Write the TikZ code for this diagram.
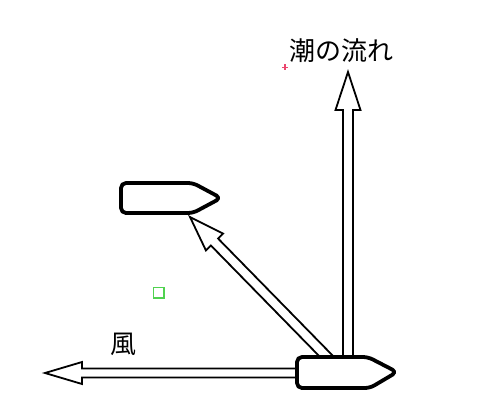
\documentclass[tikz,border=0pt]{standalone}
\usepackage{fontspec}
\newfontfamily\jpfont{Noto Sans CJK JP}
\usetikzlibrary{calc}
\definecolor{markgreen}{RGB}{80,210,80}
\definecolor{markred}{RGB}{235,70,110}
\tikzset{
  boat/.style={line width=3.8pt, rounded corners=5pt, fill=white, line join=round},
  arrline/.style={line width=1.8pt, fill=white, line join=miter},
  label/.style={font=\jpfont\fontsize{26}{29}\selectfont, inner sep=0pt},
}
\newcommand\hollowarrow[5]{% tail, tip, head length, head half width, shaft half width
  \path ($(#2)!#3!(#1)$) coordinate (hb);
  \draw[arrline] ($(#1)!#5!90:(#2)$) -- ($(hb)!#5!90:(#2)$) -- ($(hb)!#4!90:(#2)$) -- (#2)
     -- ($(hb)!#4!-90:(#2)$) -- ($(hb)!#5!-90:(#2)$) -- ($(#1)!#5!-90:(#2)$);
}
\begin{document}
\begin{tikzpicture}[x=1pt,y=-1pt]
  \useasboundingbox[fill=white] (0,0) rectangle (480,416);
  % labels
  \node[label] (tide) at (341.5,51) {潮の流れ};
  \node[label] (wind) at (123,344) {風};
  % connector end points
  \coordinate (tideTail) at (348,361);
  \coordinate (tideTip) at (348,72);
  \coordinate (windTail) at (300,373);
  \coordinate (windTip) at (45,373);
  \coordinate (driftTail) at (331,361);
  \coordinate (driftTip) at (190,217);
  % arrows
  \hollowarrow{tideTail}{tideTip}{38pt}{12.5pt}{5pt}
  \hollowarrow{windTail}{windTip}{37pt}{11pt}{4.5pt}
  \hollowarrow{driftTail}{driftTip}{35pt}{12pt}{5pt}
  % boats
  \draw[boat] (297,357) coordinate (boatA) -- (368,357) -- (397,372) coordinate (boatAbow) -- (370,388) -- (297,388) -- cycle;
  \draw[boat] (121,183) coordinate (boatB) -- (193,183) -- (221,198) coordinate (boatBbow) -- (193,213) -- (121,213) -- cycle;
  % small marks
  \draw[draw=markgreen, line width=1.3pt] (153.5,287.5) rectangle (164,298);
  \draw[draw=markred, line width=1.2pt] (282,67.3) -- (288,67.3) (285,64.3) -- (285,70.3);
\end{tikzpicture}
\end{document}
